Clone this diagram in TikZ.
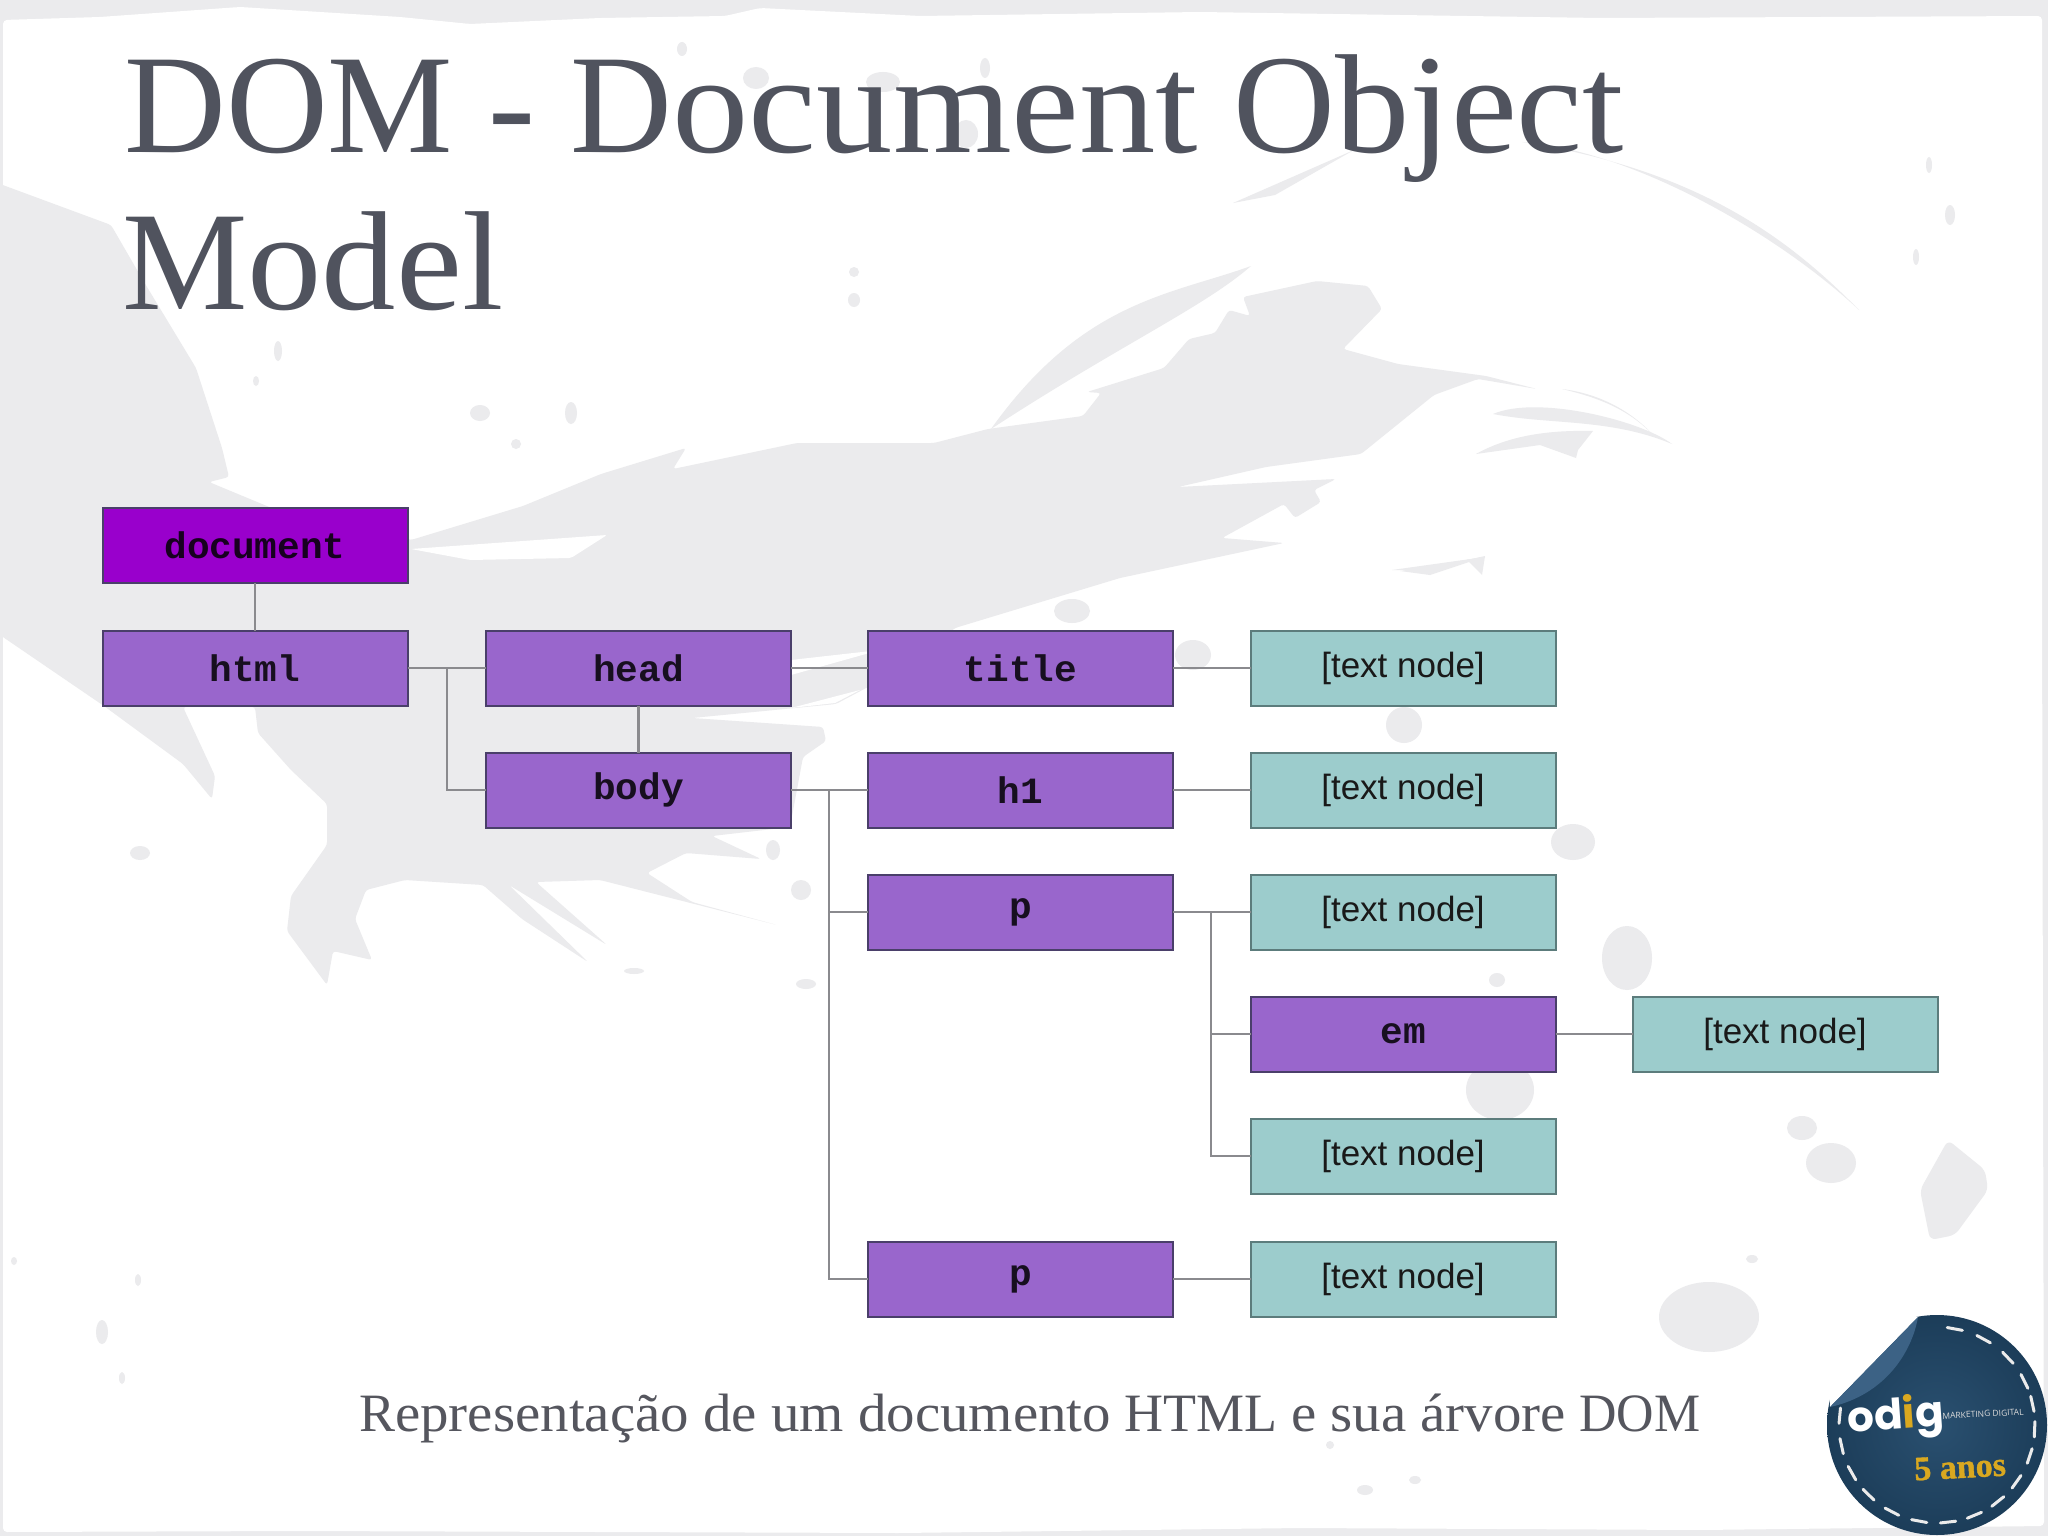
\documentclass[tikz,border=0pt]{standalone}
\usepackage{fontspec}
\setmainfont{Liberation Serif}
\newfontfamily\lowstretch{Liberation Serif}[FakeStretch=1.054]
\newfontfamily\widestretch{Liberation Serif}[FakeStretch=1.083]
\newfontfamily\narrowcaps{Liberation Serif}[FakeStretch=0.96]
\newfontfamily\boxmono{Liberation Mono}[FakeStretch=1.02]
\newfontfamily\boxsans{Liberation Sans}
\newfontfamily\logofont{Poppins}
\newfontfamily\tagfont{Open Sans}
\newfontfamily\anosfont{Liberation Serif}[FakeBold=1.2]
\newcommand{\lc}[1]{{\lowstretch #1}}
\newcommand{\lcw}[1]{{\widestretch #1}}
\definecolor{splash}{HTML}{EBEBED}
\definecolor{titlegrey}{HTML}{50535E}
\definecolor{capgrey}{HTML}{55565E}
\definecolor{docpurple}{HTML}{9900CC}
\definecolor{elpurple}{HTML}{9966CC}
\definecolor{textteal}{HTML}{9CCCCC}
\definecolor{boxedge}{HTML}{4A3F6A}
\definecolor{tealedge}{HTML}{5C7C7C}
\definecolor{linkgrey}{HTML}{8A8A8E}
\definecolor{stickdark}{HTML}{1C3D59}
\definecolor{sticklight}{HTML}{2A5070}
\definecolor{flapcol}{HTML}{3C6285}
\definecolor{goldtxt}{HTML}{D9A820}
\tikzset{
  treebox/.style={draw=boxedge,line width=2pt,minimum width=305pt,minimum height=75pt,inner sep=0pt,outer sep=0pt},
  docnode/.style={treebox,fill=docpurple,text=black!85!docpurple,font=\boxmono\bfseries\fontsize{37}{37}\selectfont},
  elnode/.style={treebox,fill=elpurple,text=black!85!elpurple,font=\boxmono\bfseries\fontsize{37}{37}\selectfont},
  txtnode/.style={treebox,draw=tealedge,fill=textteal,text=black!90,font=\boxsans\fontsize{35}{35}\selectfont},
  link/.style={draw=linkgrey,line width=2.6pt},
  blob/.style={fill=splash,draw=none},
  stitch/.style={draw=white!92!black,line width=3pt,line cap=round},
}
\begin{document}
\begin{tikzpicture}[x=1pt,y=-1pt]
\useasboundingbox (0,0) rectangle (2048,1536);
\fill[splash] (0,0) rectangle (2048,1536);
% slide paper
\fill[white,rounded corners=4pt] (3,20) -- (100,17) -- (240,7) -- (400,17) -- (470,24) -- (600,18) -- (725,16) -- (760,8) -- (920,16) -- (1200,12) -- (1600,18) -- (2042,16)
  -- (2042,600) -- (2044,1526) -- (1700,1530) -- (1300,1528) -- (900,1533) -- (300,1531) -- (3,1532) -- cycle;
% main splash
\fill[splash,rounded corners=3pt] (0,184) -- (111,225) -- (144,282) -- (196,368) -- (222,448) -- (229,477) -- (209,482) -- (274,509)
  -- (411,540) -- (523,506) -- (601,474) -- (686,448) -- (673,469) -- (797,443) -- (934,443) -- (988,429)
  -- (1083,416) -- (1101,393) -- (1087,392) -- (1164,368) -- (1189,339) -- (1215,333) -- (1229,310) -- (1250,316)
  -- (1243,297) -- (1317,281) -- (1368,286) -- (1382,309) -- (1343,349) -- (1398,364) -- (1486,376) -- (1537,389)
  -- (1478,379) -- (1434,395) -- (1361,454) -- (1266,467) -- (1178,487) -- (1336,479) -- (1314,490) -- (1321,502)
  -- (1295,518) -- (1284,504) -- (1222,538) -- (1284,543) -- (1120,578) -- (955,628) -- (900,670) -- (836,704)
  -- (692,718) -- (823,727) -- (826,741) -- (803,757) -- (790,827) -- (712,836) -- (761,859) -- (686,853)
  -- (647,873) -- (692,902) -- (777,925) -- (600,880) -- (536,882) -- (607,945) -- (509,885) -- (588,962)
  -- (522,919) -- (483,885) -- (405,880) -- (366,890) -- (355,919) -- (372,960) -- (333,951) -- (327,985)
  -- (287,931) -- (291,896) -- (327,845) -- (327,804) -- (291,770) -- (258,733) -- (255,707) -- (183,707)
  -- (215,776) -- (212,799) -- (183,764) -- (104,706) -- (0,635) -- cycle;
% white slits in the splash
\fill[white,rounded corners=2pt] (411,549) -- (607,535) -- (571,558) -- (470,560) -- cycle;
\fill[white] (791,660) -- (880,650) -- (791,675) -- cycle;
\fill[white] (791,708) -- (860,690) -- (835,703) -- cycle;
% feather, arcs and curls
\fill[splash] (991,429) .. controls (1083,300) and (1171,295) .. (1251,266) .. controls (1204,307) and (1120,345) .. (991,429) -- cycle;
\fill[splash] (1233,203) -- (1354,150) -- (1275,195) -- cycle;
\fill[splash] (1522,142) .. controls (1632,150) and (1778,234) .. (1859,310) .. controls (1790,240) and (1700,170) .. (1522,142) -- cycle;
\fill[splash] (1493,414) .. controls (1537,395) and (1640,420) .. (1672,444) .. controls (1610,418) and (1550,425) .. (1493,414) -- cycle;
\fill[splash] (1562,389) .. controls (1610,395) and (1640,420) .. (1655,437) .. controls (1630,410) and (1600,398) .. (1562,389) -- cycle;
\fill[splash] (1476,454) .. controls (1510,435) and (1550,430) .. (1593,431) -- (1578,450) -- (1576,458) -- (1540,445) -- cycle;
\fill[splash] (1467,560) -- (1485,556) -- (1482,575) -- cycle;
\fill[splash] (1392,570) -- (1485,557) -- (1420,570) -- cycle;
\fill[splash] (1400,571) -- (1484,557) -- (1430,575) -- cycle;
% right blob
\fill[splash,rounded corners=6pt] (1948,1140) -- (1985,1170) -- (1988,1190) -- (1955,1235) -- (1930,1240) -- (1920,1190) -- cycle;
% small specks
\foreach \bx/\by/\brx/\bry in {1627/958/25/32,1497/980/8/7,1500/1090/34/30,1802/1128/15/12,1831/1163/25/20,1709/1317/50/35,1752/1259/6/4,1573/842/22/18,
  1404/725/18/18,1072/611/18/12,1193/655/18/15,480/413/10/8,571/413/6/11,516/444/5/5,278/351/4/10,256/381/3/5,854/272/5/5,854/300/6/7,773/850/7/10,801/890/10/10,
  140/853/10/7,806/984/10/5,634/971/10/3,102/1332/6/12,1950/215/5/10,1929/165/3/8,1916/257/3/8,682/49/5/7,756/78/13/11,883/82/17/10,966/134/12/14,985/68/5/10,
  1508/1023/4/4,1415/1480/6/4,1365/1490/8/5,1330/1445/4/4,14/1261/3/4,138/1280/3/6,122/1378/3/6}
  \fill[blob] (\bx,\by) ellipse [x radius=\brx,y radius=\bry];
% title and caption
\node[anchor=base west,inner sep=0pt,text=titlegrey,font=\fontsize{141}{141}\selectfont] (titleA) at (124,153) {DOM - D\lcw{ocument} O\lc{bject}};
\node[anchor=base west,inner sep=0pt,text=titlegrey,font=\fontsize{141}{141}\selectfont] (titleB) at (122,309) {M\lc{odel}};
\node[anchor=base west,inner sep=0pt,text=capgrey,font=\fontsize{54}{54}\selectfont] (caption) at (359,1431) {R\lc{epresentação de um documento} HTML \lc{e sua árvore} {\narrowcaps DOM}};
% tree
\node[docnode] (document) at (255,545.5) {document};
\node[elnode] (html) at (255,668) {html};
\node[elnode] (head) at (638.5,668) {head};
\node[elnode] (body) at (638.5,790) {body};
\node[elnode] (title) at (1020.5,668) {title};
\node[elnode] (h1) at (1020.5,790) {h1};
\node[elnode] (p1) at (1020.5,912) {p};
\node[elnode] (p2) at (1020.5,1279) {p};
\node[txtnode] (t1) at (1403,668) {[text node]};
\node[txtnode] (t2) at (1403,790) {[text node]};
\node[txtnode] (t3) at (1403,912) {[text node]};
\node[elnode] (em) at (1403,1034) {em};
\node[txtnode] (t4) at (1403,1156) {[text node]};
\node[txtnode] (t5) at (1403,1279) {[text node]};
\node[txtnode] (t6) at (1785,1034) {[text node]};
\coordinate (jhtml) at (447,668);
\coordinate (jbody) at (829,790);
\coordinate (jp) at (1211,912);
\draw[link] (document) -- (html);
\draw[link] (html) -- (head);
\draw[link] (jhtml) |- (body.west);
\draw[link] (head) -- (body);
\draw[link] (head) -- (title);
\draw[link] (title) -- (t1);
\draw[link] (body) -- (h1);
\draw[link] (jbody) |- (p1.west);
\draw[link] (jbody) |- (p2.west);
\draw[link] (h1) -- (t2);
\draw[link] (p1) -- (t3);
\draw[link] (jp) |- (em.west);
\draw[link] (jp) |- (t4.west);
\draw[link] (em) -- (t6);
\draw[link] (p2) -- (t5);
% sticker
\shade[inner color=sticklight,outer color=stickdark] (1937,1425) circle [radius=110];
\fill[white] (1830,1407) -- (1918,1317) -- (1826,1313) -- cycle;
\fill[flapcol] (1830,1407) -- (1918,1317) .. controls (1912,1352) and (1885,1395) .. (1830,1407) -- cycle;
\foreach \a in {-84,-66,-48,-31,-17,-2,14,31,47,63,79,96,113,130,146,163,181}
  \draw[stitch] ({1937+98*cos(\a)},{1425+98*sin(\a)}) -- ({1937+98*cos(\a+9)},{1425+98*sin(\a+9)});
\node[inner sep=0pt,rotate=4,text=white,font=\logofont\bfseries\fontsize{42}{42}\selectfont] (logo) at (1896,1418) {od\textcolor{goldtxt}{i}g};
\node[inner sep=0pt,rotate=3,text=white!85!black,font=\tagfont\fontsize{8.5}{9}\selectfont] (tag) at (1983,1414) {MARKETING DIGITAL};
\node[inner sep=0pt,rotate=3,text=goldtxt,font=\anosfont\bfseries\fontsize{34}{34}\selectfont] (anos) at (1960,1467) {5 anos};
\end{tikzpicture}
\end{document}
